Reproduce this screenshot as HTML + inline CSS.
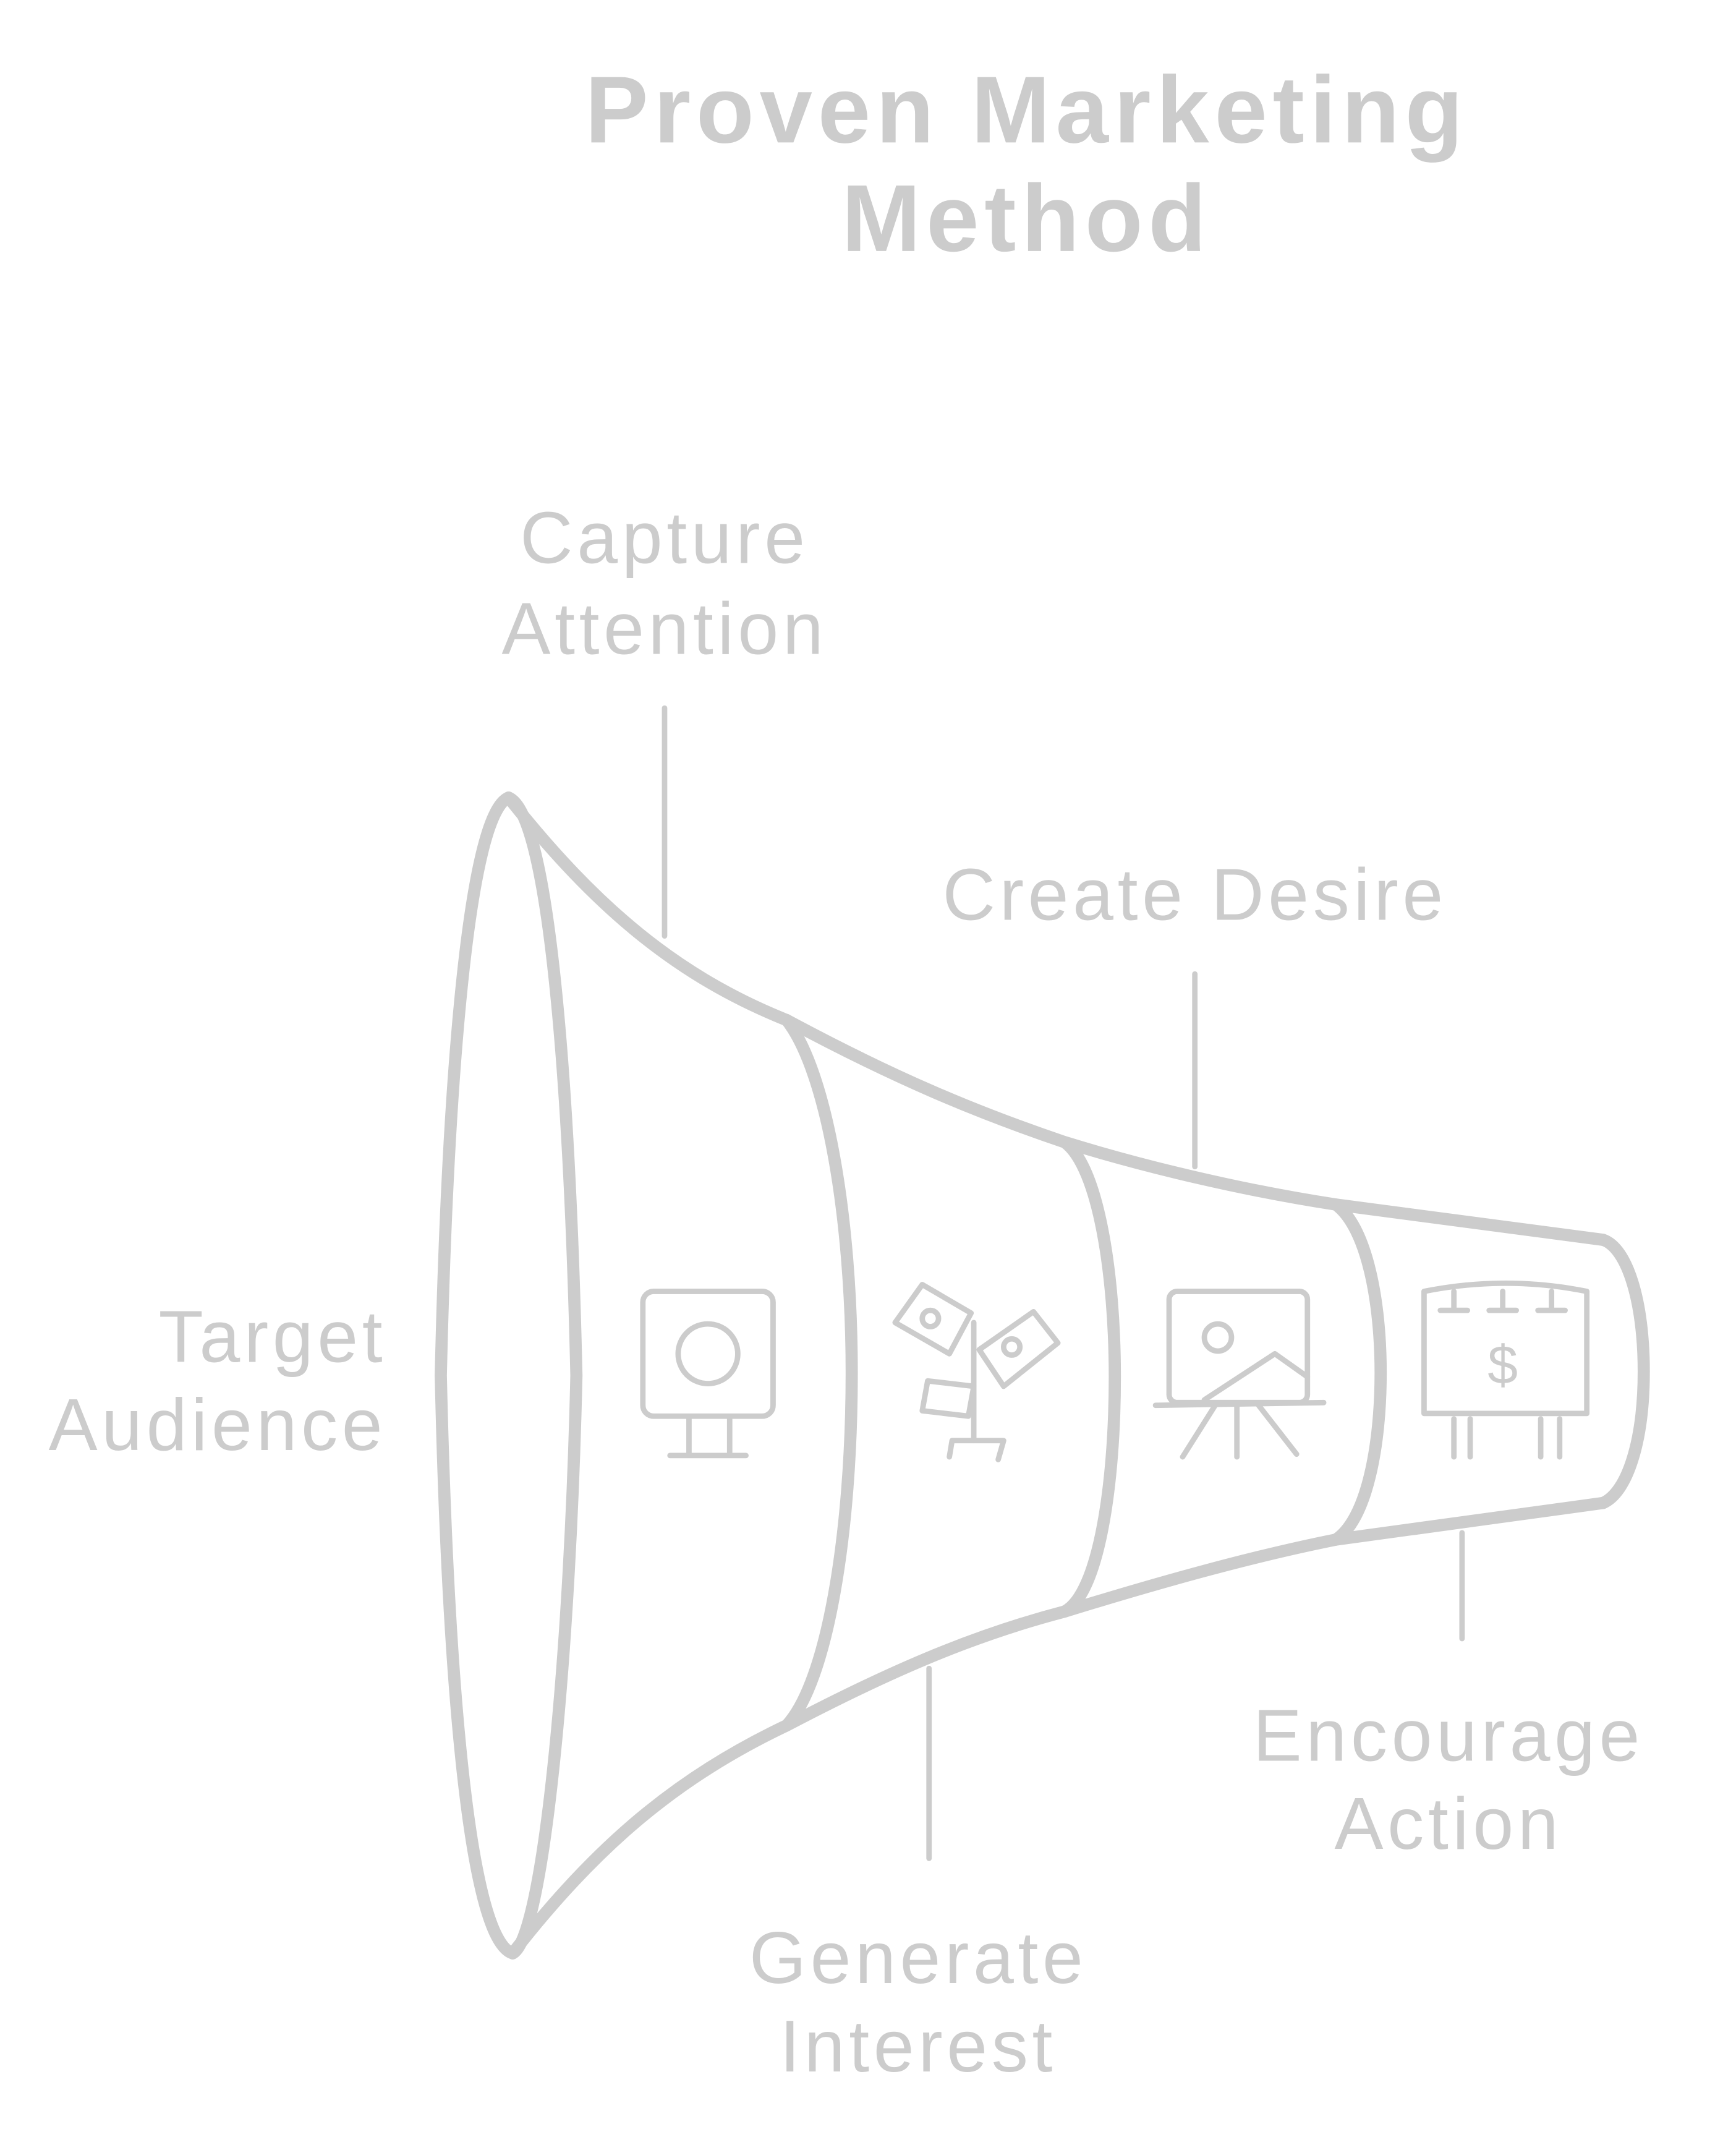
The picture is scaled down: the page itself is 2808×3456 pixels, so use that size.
<!DOCTYPE html>
<html><head><meta charset="utf-8"><style>
html,body{margin:0;padding:0;background:#fff;}
svg{display:block;}
text{font-family:"Liberation Sans",sans-serif;fill:#cccccc;}
</style></head><body>
<svg width="2808" height="3456" viewBox="0 0 1280 1575.4" xmlns="http://www.w3.org/2000/svg">
<g fill="none" stroke="#cccccc" stroke-linecap="round" stroke-linejoin="round">
<g stroke-width="9">
<path d="M375,588 C345,600 330,800 325,1014 C330,1230 345,1430 378,1440 C400,1430 420,1230 425,1014 C420,800 405,600 375,588 Z"/>
<path d="M375,588 C440,670 500,720 580,752 C660,795 720,820 785,842 C850,862 920,878 985,888 L1182,914"/>
<path d="M378,1440 C440,1360 500,1310 580,1272 C660,1230 720,1205 785,1188 C850,1168 920,1148 985,1135 L1182,1108"/>
<path d="M580,752 C610,790 628,900 628,1012 C628,1130 610,1240 580,1272"/>
<path d="M785,842 C810,860 822,940 822,1015 C822,1095 810,1175 785,1188"/>
<path d="M985,888 C1008,905 1018,960 1018,1012 C1018,1065 1008,1120 985,1135"/>
<path d="M1182,914 C1200,920 1212,960 1212,1011 C1212,1062 1200,1100 1182,1108"/>
</g>
<g stroke-width="4">
<line x1="490" y1="522" x2="490" y2="690"/>
<line x1="881" y1="718" x2="881" y2="860"/>
<line x1="685" y1="1230" x2="685" y2="1370"/>
<line x1="1078" y1="1130" x2="1078" y2="1208"/>
</g>
<g stroke-width="4">
<rect x="474" y="952" width="96" height="92" rx="8"/>
<circle cx="522" cy="998" r="22"/>
<line x1="508" y1="1046" x2="508" y2="1072"/>
<line x1="538" y1="1046" x2="538" y2="1072"/>
<line x1="494" y1="1073" x2="550" y2="1073"/>
<path d="M660,975 L680,947 L716,968 L700,998 Z"/>
<circle cx="686" cy="972" r="6"/>
<path d="M722,995 L762,967 L780,990 L740,1022 Z"/>
<circle cx="746" cy="993" r="6"/>
<line x1="718" y1="975" x2="718" y2="1062"/>
<path d="M684,1018 L718,1022 L714,1044 L680,1040 Z"/>
<path d="M700,1074 L702,1062 L740,1062 L736,1076"/>
<rect x="862" y="952" width="102" height="82" rx="6"/>
<circle cx="898" cy="986" r="10"/>
<path d="M888,1032 L940,998 L964,1015"/>
<line x1="852" y1="1036" x2="976" y2="1034"/>
<line x1="896" y1="1036" x2="872" y2="1074"/>
<line x1="912" y1="1036" x2="912" y2="1074"/>
<line x1="928" y1="1036" x2="956" y2="1072"/>
<path d="M1050,952 Q1110,940 1170,952 L1170,1042 L1050,1042 Z"/>
<line x1="1072" y1="952" x2="1072" y2="966"/><line x1="1062" y1="966" x2="1082" y2="966"/>
<line x1="1108" y1="952" x2="1108" y2="966"/><line x1="1098" y1="966" x2="1118" y2="966"/>
<line x1="1144" y1="952" x2="1144" y2="966"/><line x1="1134" y1="966" x2="1154" y2="966"/>
<line x1="1072" y1="1046" x2="1072" y2="1074"/><line x1="1084" y1="1046" x2="1084" y2="1074"/>
<line x1="1136" y1="1046" x2="1136" y2="1074"/><line x1="1150" y1="1046" x2="1150" y2="1074"/>
</g>
</g>
<text x="1108" y="1020" font-size="40" text-anchor="middle">$</text>
<g font-size="54" text-anchor="middle" letter-spacing="3">
<text x="757" y="105" font-weight="bold" font-size="70" letter-spacing="4">Proven Marketing</text>
<text x="757" y="185" font-weight="bold" font-size="70" letter-spacing="4">Method</text>
<text x="490" y="415">Capture</text>
<text x="490" y="482">Attention</text>
<text x="881" y="678">Create Desire</text>
<text x="285" y="1004" text-anchor="end">Target</text>
<text x="285" y="1069" text-anchor="end">Audience</text>
<text x="677" y="1462">Generate</text>
<text x="677" y="1527">Interest</text>
<text x="1068" y="1298">Encourage</text>
<text x="1068" y="1363">Action</text>
</g>
</svg>
</body></html>
